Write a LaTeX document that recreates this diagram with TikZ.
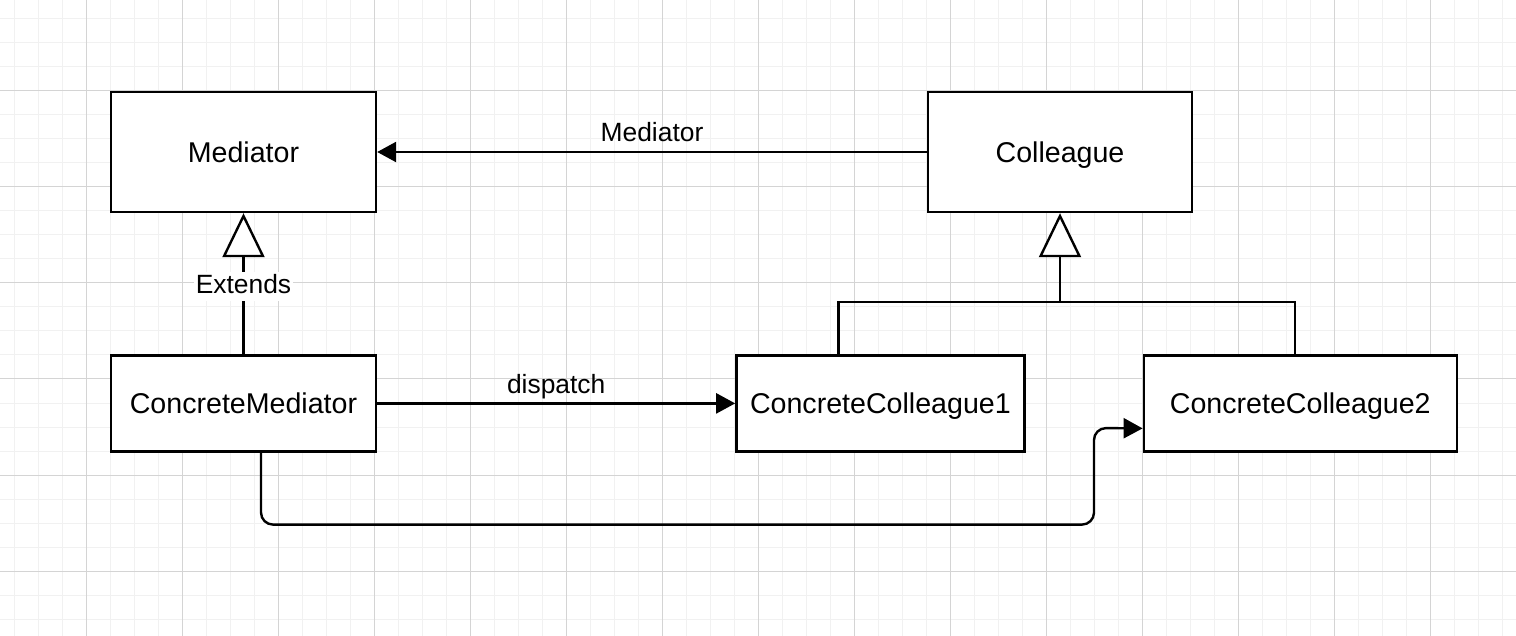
\documentclass[tikz,border=0pt]{standalone}
\usepackage{fontspec}
\setmainfont{Liberation Sans}
\usepackage{tikz}
\usetikzlibrary{arrows.meta}
\usetikzlibrary{shapes,calc,positioning}
\definecolor{gridfine}{RGB}{241,241,241}
\definecolor{gridmajor}{RGB}{212,212,212}

\begin{document}
\begin{tikzpicture}[x=0.5pt,y=-0.5pt,
	cls/.style={draw,line width=1.2pt,fill=white,inner sep=0pt,minimum height=60pt,text height=13pt,text depth=2.4pt,font=\fontsize{14.3}{17}\selectfont},
	lbl/.style={font=\fontsize{13.2}{16}\selectfont,inner sep=1pt,text height=10pt,text depth=2.5pt},
	assoc/.style={line width=1.2pt,-{Triangle[length=9.5pt,width=10pt]}},
	ext/.style={line width=1.2pt,-{Triangle[open,length=22pt,width=21pt,fill=white]}}]
			\useasboundingbox (0,0) rectangle (1516,636);
			% grid
			\foreach \gx in {14,38,...,1516} \draw[gridfine,line width=0.5pt] (\gx,0) -- (\gx,636);
			\foreach \gy in {19,43,...,636} \draw[gridfine,line width=0.5pt] (0,\gy) -- (1516,\gy);
			\foreach \gx in {86,182,...,1516} \draw[gridmajor,line width=0.5pt] (\gx,0) -- (\gx,636);
			\foreach \gy in {91,187,...,636} \draw[gridmajor,line width=0.5pt] (0,\gy) -- (1516,\gy);
			% Define nodes
			\node[cls, minimum width=132.5pt] (med) at (243.5,152) {Mediator}; %
			\node[cls, minimum width=132pt] (col) at (1060,152) {Colleague}; %
			\node[cls, minimum width=132.5pt, minimum height=48pt, below=70.5pt of med] (cmed) {ConcreteMediator}; %
			\node[cls, minimum width=144pt, minimum height=48pt, right=179pt of cmed] (cc1) {ConcreteColleague1}; %
			\node[cls, minimum width=156.5pt, minimum height=48pt, right=58.5pt of cc1] (cc2) {ConcreteColleague2}; %
			\coordinate (jn) at (1059,302); %
			\coordinate (bend) at (1094,428); %
			%%add edge
			\draw[assoc] (col.west) -- node[lbl, above=1.2pt] {Mediator} (med.east); %
			\draw[ext] (cmed.north) -- (med.south); %
			\node[lbl, fill=white] at (243.5,286.5) {Extends}; %
			\draw[line width=1.2pt] ([xshift=-21pt]cc1.north) |- (jn) -| ([xshift=-2.75pt]cc2.north); %
			\draw[ext] (col.south |- jn) -- (col.south); %
			\draw[assoc] (cmed.east) -- node[lbl, above=0.8pt] {dispatch} (cc1.west); %
			\draw[assoc, rounded corners=6pt] ([xshift=8.75pt]cmed.south) -- ++(0,72) -| (bend) -- ([yshift=-12.5pt]cc2.west); %
			\end{tikzpicture}
\end{document}
